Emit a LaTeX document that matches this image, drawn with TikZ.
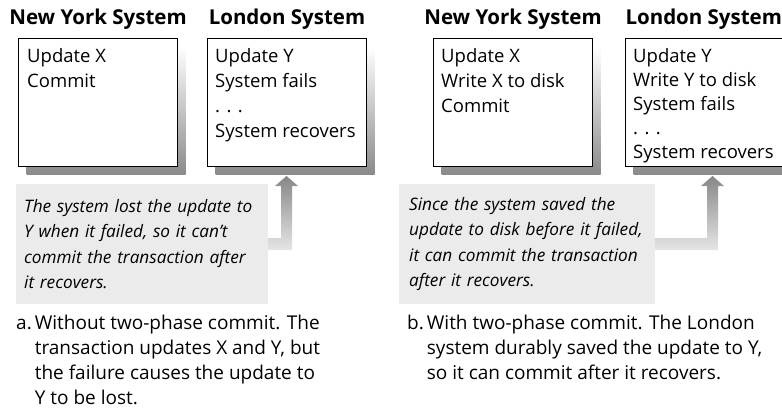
\documentclass[tikz,border=0pt]{standalone}
\usepackage{fontspec}
\setmainfont{Open Sans}
\usetikzlibrary{positioning,calc,shadows}

\tikzset{
  systitle/.style={font=\fontsize{20.5}{22}\selectfont\bfseries, inner sep=0pt},
  sysbox/.style={draw=black, line width=1pt, fill=white, inner sep=0pt,
    minimum width=159pt, minimum height=128pt, anchor=north west,
    general shadow={shadow xshift=8pt, shadow yshift=-8pt, top color=white, bottom color=black!46}},
  steps/.style={align=left, inner sep=0pt, anchor=north west},
  notebox/.style={fill=black!8, inner xsep=8pt, inner ysep=0pt, minimum height=120pt,
    align=left, anchor=north west, font=\fontsize{17.2}{25.5}\selectfont\itshape},
  capt/.style={inner sep=0pt, anchor=base west, font=\fontsize{19}{25}\selectfont},
  recarrow/.style={top color=black!47, bottom color=black!10, draw=none}
}

\begin{document}
\begin{tikzpicture}[x=1pt, y=-1pt, font=\fontsize{18.5}{25}\selectfont]
  \useasboundingbox (0,0) rectangle (782,413);

  % a. without two-phase commit
  \node[sysbox] (nyA) at (18,38) {};
  \node[sysbox] (lonA) at (207,38) {};
  \node[systitle, above=8pt of nyA] (nyAt) {New York System};
  \node[systitle, above=8pt of lonA] (lonAt) {London System};
  \node[steps] (nyAs) at ($(nyA.north west)+(9,10.5)$) {Update X\\Commit};
  \node[steps] (lonAs) at ($(lonA.north west)+(8,10.5)$) {Update Y\\System fails\\. . .\\System recovers};

  \node[notebox, text width=236pt] (noteA) at (16,184) {The system lost the update to\\Y when it failed, so it can't\\commit the transaction after\\it recovers.};
  \coordinate (tipA) at ($(lonA.south west)+(79.5,9)$);
  \shade[recarrow] ($(noteA.east)+(0,6)$) -| ($(tipA)+(5.5,10)$) -- ++(6,0) -- (tipA)
    -- ++(-11.5,10) -- ++(6,0) |- ($(noteA.east)+(0,-6)$) -- cycle;

  \node[capt] (capA) at (16,329) {\begin{tabular}[t]{@{}l@{\hspace{3pt}}l@{}}
    a. & Without two-phase commit. The\\
       & transaction updates X and Y, but\\
       & the failure causes the update to\\
       & Y to be lost.\end{tabular}};

  % b. with two-phase commit
  \node[sysbox] (nyB) at (433,38) {};
  \node[sysbox, minimum width=156.5pt] (lonB) at (625,38) {};
  \node[systitle, above=8pt of nyB] (nyBt) {New York System};
  \node[systitle, above=8pt of lonB] (lonBt) {London System};
  \node[steps] (nyBs) at ($(nyB.north west)+(8,10.5)$) {Update X\\Write X to disk\\Commit};
  \node[steps, font=\fontsize{18.5}{24}\selectfont] (lonBs) at ($(lonB.north west)+(8,10.5)$) {Update Y\\Write Y to disk\\System fails\\. . .\\System recovers};

  \node[notebox, text width=236pt, inner xsep=10pt] (noteB) at (399,184) {Since the system saved the\\update to disk before it failed,\\it can commit the transaction\\after it recovers.};
  \coordinate (tipB) at ($(lonB.south west)+(87.5,9)$);
  \shade[recarrow] ($(noteB.east)+(0,6)$) -| ($(tipB)+(5.5,10)$) -- ++(6,0) -- (tipB)
    -- ++(-11.5,10) -- ++(6,0) |- ($(noteB.east)+(0,-6)$) -- cycle;

  \node[capt] (capB) at (407,329) {\begin{tabular}[t]{@{}l@{\hspace{3pt}}l@{}}
    b. & With two-phase commit. The London\\
       & system durably saved the update to Y,\\
       & so it can commit after it recovers.\end{tabular}};
\end{tikzpicture}
\end{document}
